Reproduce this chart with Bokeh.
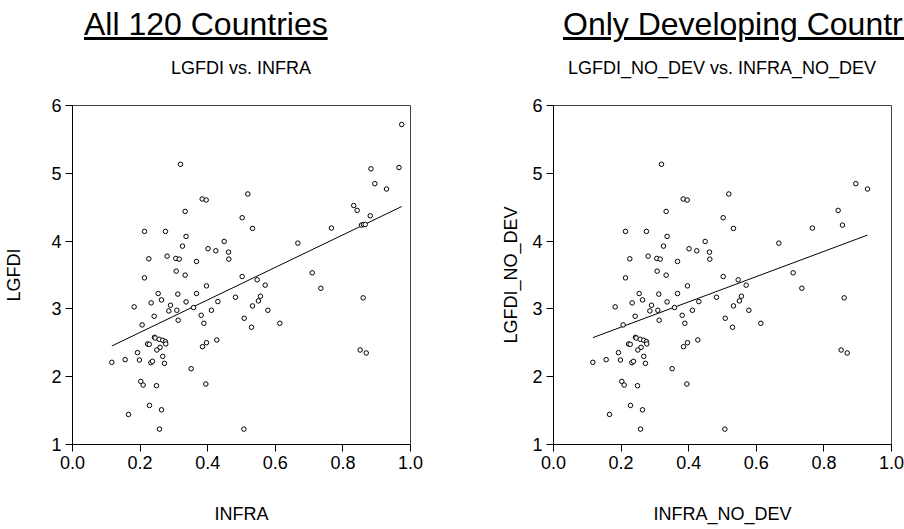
from bokeh.plotting import figure
from bokeh.layouts import row, column
from bokeh.models import Div, Range1d, FixedTicker, PrintfTickFormatter
from bokeh.embed import file_html
from bokeh.resources import INLINE

# ---- data ----
# developing countries (shown in both panels)
infra_dev = [0.3195, 0.8945, 0.929, 0.3836, 0.3955, 0.5187, 0.3333, 0.502, 0.8422, 0.855,
             0.213, 0.275, 0.5325, 0.766, 0.336, 0.3254, 0.401, 0.424, 0.4487, 0.4615,
             0.4625, 0.6667, 0.2258, 0.280, 0.3057, 0.3156, 0.3669, 0.3067, 0.3333, 0.213,
             0.502, 0.5464, 0.570, 0.709, 0.7347, 0.2535, 0.3116, 0.3669, 0.3964, 0.2633,
             0.2327, 0.336, 0.290, 0.358, 0.285, 0.3087, 0.430, 0.411, 0.4822, 0.5325,
             0.550, 0.556, 0.578, 0.860, 0.1824, 0.2416, 0.206, 0.3126, 0.3807, 0.3886,
             0.508, 0.5296, 0.6134, 0.2426, 0.2446, 0.2564, 0.267, 0.275, 0.276, 0.222,
             0.227, 0.259, 0.2495, 0.1923, 0.3964, 0.3846, 0.427, 0.267, 0.1164, 0.1558,
             0.198, 0.2318, 0.2367, 0.272, 0.851, 0.869, 0.351, 0.202, 0.209, 0.2485,
             0.3945, 0.2278, 0.2633, 0.1657, 0.2574, 0.507]
lgfdi_dev = [5.133, 4.847, 4.768, 4.621, 4.606, 4.695, 4.438, 4.345, 4.453, 4.236,
             4.143, 4.143, 4.187, 4.192, 4.069, 3.926, 3.887, 3.857, 3.995, 3.837,
             3.734, 3.970, 3.739, 3.778, 3.744, 3.734, 3.700, 3.557, 3.498, 3.458,
             3.478, 3.429, 3.350, 3.532, 3.305, 3.227, 3.218, 3.227, 3.340, 3.133,
             3.089, 3.103, 3.054, 3.020, 2.970, 2.980, 3.108, 2.980, 3.172, 3.044,
             3.118, 3.187, 2.980, 3.163, 3.030, 2.892, 2.764, 2.833, 2.906, 2.788,
             2.862, 2.729, 2.788, 2.581, 2.571, 2.552, 2.537, 2.517, 2.483, 2.483,
             2.478, 2.433, 2.394, 2.355, 2.502, 2.443, 2.542, 2.300, 2.212, 2.251,
             2.246, 2.207, 2.227, 2.197, 2.394, 2.350, 2.118, 1.931, 1.877, 1.867,
             1.892, 1.576, 1.512, 1.443, 1.227, 1.227]
# developed countries (only in the left panel)
infra_developed = [0.974, 0.966, 0.883, 0.832, 0.881, 0.861, 0.866]
lgfdi_developed = [5.72, 5.085, 5.066, 4.525, 4.373, 4.245, 4.245]

# fitted regression lines (intercept, slope)
fit_all = (2.174, 2.398)
fit_dev = (2.359, 1.862)

x_ticks = [0.0, 0.2, 0.4, 0.6, 0.8, 1.0]
y_ticks = [1, 2, 3, 4, 5, 6]

FONT = "Liberation Sans"
FS = "18px"


def make_fig(xs, ys, fit, xlabel, ylabel, b_left, b_right, ylab_standoff):
    p = figure(frame_width=338, frame_height=339, x_range=Range1d(0, 1), y_range=Range1d(1, 6),
               output_backend="svg", toolbar_location=None,
               min_border_left=b_left, min_border_right=b_right,
               min_border_top=17, min_border_bottom=85,
               background_fill_color="white", border_fill_color="white")
    p.grid.visible = False
    p.outline_line_color = "#404040"
    p.outline_line_width = 1
    for ax in (p.xaxis[0], p.yaxis[0]):
        ax.axis_line_color = "black"
        ax.major_tick_line_color = "black"
        ax.major_tick_out = 7
        ax.major_tick_in = 0
        ax.minor_tick_line_color = None
        ax.major_label_text_font = FONT
        ax.major_label_text_font_size = FS
        ax.major_label_text_color = "black"
        ax.axis_label_text_font = FONT
        ax.axis_label_text_font_size = FS
        ax.axis_label_text_font_style = "normal"
        ax.axis_label_text_color = "black"
        ax.major_label_standoff = 4
    p.xaxis.ticker = FixedTicker(ticks=x_ticks)
    p.xaxis.formatter = PrintfTickFormatter(format="%.1f")
    p.yaxis.ticker = FixedTicker(ticks=y_ticks)
    p.xaxis.axis_label = xlabel
    p.yaxis.axis_label = ylabel
    p.xaxis.axis_label_standoff = 32
    p.yaxis.axis_label_standoff = ylab_standoff

    a, b = fit
    x0, x1 = min(xs), max(xs)
    p.line([x0, x1], [a + b * x0, a + b * x1], line_color="black", line_width=1)
    p.scatter(xs, ys, marker="circle", size=4.5, fill_color="white",
              line_color="black", line_width=1)
    return p


def header(title, subtitle, width, title_left, sub_center, clip):
    ov = "overflow:hidden;" if clip else ""
    html = (
        f'<div style="position:relative;width:{width}px;height:88px;{ov}'
        f'font-family:\'{FONT}\',Arial,sans-serif;color:#000;">'
        f'<div style="position:absolute;left:{title_left}px;top:2px;font-size:32px;'
        f'text-decoration:underline;white-space:nowrap;">{title}</div>'
        f'<div style="position:absolute;left:0px;width:{2 * sub_center}px;top:56px;'
        f'font-size:{FS};text-align:center;white-space:nowrap;">{subtitle}</div>'
        f'</div>'
    )
    return Div(text=html, width=width, height=88, margin=(0, 0, 0, 0))


all_x = infra_dev + infra_developed
all_y = lgfdi_dev + lgfdi_developed

p1 = make_fig(all_x, all_y, fit_all, "INFRA", "LGFDI", 72, 71, 24)
p2 = make_fig(infra_dev, lgfdi_dev, fit_dev, "INFRA_NO_DEV", "LGFDI_NO_DEV", 72, 13, 8)

h1 = header("All 120 Countries", "LGFDI vs. INFRA", 481, 84, 241, False)
h2 = header("Only Developing Countries", "LGFDI_NO_DEV vs. INFRA_NO_DEV", 423, 82, 241, True)

layout = row(column(h1, p1, spacing=0), column(h2, p2, spacing=0), spacing=0)

open("out.html", "w").write(file_html(layout, INLINE))
